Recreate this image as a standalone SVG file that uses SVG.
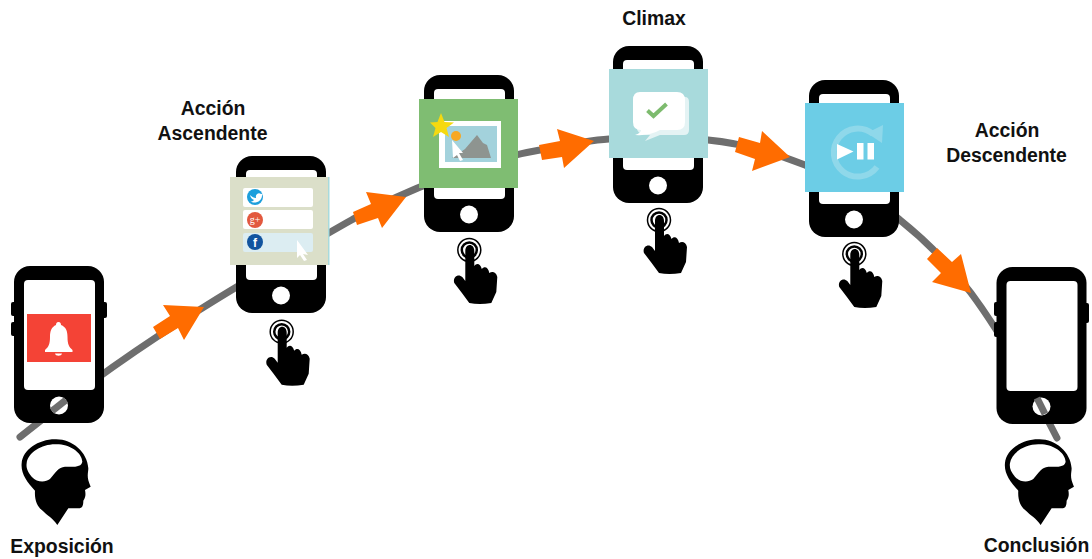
<svg xmlns="http://www.w3.org/2000/svg" xmlns:xlink="http://www.w3.org/1999/xlink" width="1092" height="559" viewBox="0 0 1092 559">
<style>
.lbl{font-family:"Liberation Sans",Arial,sans-serif;font-weight:700;font-size:19.4px;fill:#111;text-anchor:middle}
.curve{fill:none;stroke:#6e6e6e;stroke-width:7;stroke-linecap:round}
.arrow{fill:#ff6c00}
.row{fill:#fff}
.cur{fill:#fff}
</style>
<defs>
<g id="phone">
<rect x="0" y="0" width="90" height="157" rx="16" fill="#000"/>
<rect x="10" y="14" width="71" height="110" rx="4" fill="#fff"/>
<circle cx="45" cy="139.500" r="9" fill="#fff"/>
</g>
<g id="hand">
<circle r="11.500" fill="none" stroke="#000" stroke-width="1.500"/>
<circle r="7.500" fill="none" stroke="#000" stroke-width="2.500"/>
<path d="M-4,1 C-4,-7 5,-7 5,1 L5,16 C7,13 11,13 12.500,19 C15,16 19,17 20,23 C23,21 27,22 28,27 L27,42 L22,53 Q10,55 0,53 Q-8,42 -15,33 C-17,27 -11,23 -7,27 L-4,31 Z" fill="#000"/>
</g>
<g id="head">
<path d="M165,538 C215,536 262,575 265,625 C265,640 258,650 272,680 L255,690 C257,700 258,712 250,722 C250,735 248,745 235,745 L205,745 L172,795 C160,775 140,765 128,752 C112,740 103,720 105,692 C80,665 62,640 65,610 C68,570 115,538 165,538 Z" fill="#000"/>
<path d="M165,553 C205,551 245,575 247,605 C245,620 225,622 195,620 C175,622 168,635 150,657 C135,668 112,668 95,650 C82,635 78,622 80,610 C84,578 125,553 165,553 Z" fill="#fff"/>
</g>
</defs>
<rect width="1092" height="559" fill="#fff"/>
<g id="connectors">
<path class="curve" d="M20,437 C60,405 130,352 204,307 C260,272 320,238 355,218 C400,193 480,160 540,150 C565,145 590,140 609,139 C640,137 680,137 708,140 C740,143 775,153 805,165 C840,180 875,198 900,220 C925,240 950,265 971,293 C1000,332 1030,385 1057,438"/>
<polygon class="arrow" points="153,327 170,316 163,305 204,307 184,340 178,328 160,339"/>
<polygon class="arrow" points="353,212 371,204 366,192 406,197 382,228 378,218 357,225"/>
<polygon class="arrow" points="539,145 560,141 557,129 594,141 564,168 562,157 542,160"/>
<polygon class="arrow" points="739,137 760,143 762,131 790,157 752,171 755,159 735,152"/>
<polygon class="arrow" points="937,248 952,262 961,254 971,293 932,282 941,273 927,259"/>
</g>
<g id="node-exposicion">
<rect x="11" y="302" width="6" height="14" rx="2" fill="#000"/>
<rect x="11" y="322" width="6" height="14" rx="2" fill="#000"/>
<rect x="101" y="302" width="6" height="16" rx="2" fill="#000"/>
<use href="#phone" x="14" y="266"/>
<line x1="52" y1="411" x2="66" y2="400" stroke="#6e6e6e" stroke-width="7"/>
<rect x="27" y="314" width="64" height="48" fill="#f44336"/>
<path d="M58.500,322 C60.500,322 61,323.500 61,325 C66,327 67.500,331 67.500,337 C67.500,344 69,347 72.500,350 L72.500,352 L45,352 L45,350 C48.500,347 50,344 50,337 C50,331 51.500,327 56,325 C56,323.500 56.500,322 58.500,322 Z M55,353.500 L62,353.500 C61.500,356.500 55.500,356.500 55,353.500 Z" fill="#fff"/>
<use href="#head" transform="translate(0,260) scale(.3333)"/>
<text class="lbl" x="62" y="553">Exposición</text>
</g>
<g id="node-ascendente">
<use href="#phone" x="236" y="156"/>
<rect x="230" y="177" width="99" height="88" fill="#dbdfc9"/>
<rect x="328" y="177" width="1.500" height="88" fill="#a8dadc"/>
<rect class="row" x="243" y="188" width="70" height="19" rx="2"/>
<rect class="row" x="243" y="210" width="70" height="19" rx="2"/>
<rect x="243" y="233" width="70" height="19" rx="2" fill="#dcedf2"/>
<circle cx="255" cy="197" r="8" fill="#1d9fdc"/>
<path d="M250,195 C252,197 254,198 256,198 C255,194 259,192 261,194 L263,193.500 L262,195.500 C262,200 258,203 253,202.500 L250.500,201.500 C252,201.500 253,201 254,200 C252,199.500 250.500,197.500 250,195 Z" fill="#fff"/>
<circle cx="255" cy="220" r="8" fill="#e2583e"/>
<text x="255" y="223" font-family="Liberation Serif,serif" font-size="10" fill="#fff" text-anchor="middle">g+</text>
<circle cx="255" cy="242" r="8" fill="#12549f"/>
<text x="255" y="247" font-family="Liberation Sans,Arial,sans-serif" font-weight="700" font-size="12" fill="#fff" text-anchor="middle">f</text>
<polygon class="cur" points="297,240 308,255 303,254 307,260 304,261 300,255 297,258"/>
<use href="#hand" x="281.700" y="331.700"/>
<text class="lbl" x="213" y="115">Acción</text>
<text class="lbl" x="212.500" y="140">Ascendente</text>
</g>
<g id="node-imagen">
<use href="#phone" x="424" y="75"/>
<rect x="419" y="99" width="99" height="89" fill="#7fbd72"/>
<rect x="439" y="121" width="62" height="47" fill="#fff"/>
<rect x="445" y="126" width="52" height="36" fill="#a3d2dc"/>
<polygon points="452,158 465,149 477,135 483,143 487,145 491,158" fill="#8e9490"/>
<polygon points="441,113 444.500,122 454,122.500 446.500,128 449,137 441,132 433,137 435.500,128 430,122.500 437.500,122" fill="#f5d90f"/>
<circle cx="456" cy="136" r="5" fill="#f7a823"/>
<polygon class="cur" points="452,140 463,153 459,153 463,160 460,161 457,155 453,158"/>
<use href="#hand" x="469.300" y="250"/>
</g>
<g id="node-climax">
<use href="#phone" x="613" y="46"/>
<rect x="609" y="69" width="99" height="89" fill="#a8dadc"/>
<path d="M640,97 L685,97 Q689,97 689,102 L689,130 Q689,135 684,135 L660,135 L645,141 L650,135 Q637,135 637,128 Z" fill="#e4f3f4"/>
<path d="M640,92 L677,92 Q685,92 685,100 L685,122 Q685,130 677,130 L660,130 Q650,136 635,135 Q641,133 641,130 Q633,130 633,122 L633,100 Q633,92 640,92 Z" fill="#fff"/>
<polyline points="647.500,110.500 653.500,116 666.500,104" fill="none" stroke="#7dbb6e" stroke-width="4"/>
<use href="#hand" x="659" y="220"/>
<text class="lbl" x="654" y="25">Climax</text>
</g>
<g id="node-video">
<use href="#phone" x="809" y="80"/>
<rect x="805" y="103" width="99" height="89" fill="#6ccde6"/>
<path d="M877,167 A24,24 0 1 1 873,134" fill="none" stroke="#8fd8ea" stroke-width="6"/>
<polygon points="883,125 882,143 867,133" fill="#8fd8ea"/>
<polygon points="837,144 853.500,151.500 837,159.500" fill="#fff"/>
<rect x="857" y="143" width="6.500" height="16.500" fill="#fff"/>
<rect x="867.500" y="143" width="6.500" height="16.500" fill="#fff"/>
<use href="#hand" x="854.300" y="254"/>
<text class="lbl" x="1007" y="137">Acción</text>
<text class="lbl" x="1006.500" y="162">Descendente</text>
</g>
<g id="node-conclusion">
<rect x="994" y="302" width="6" height="14" rx="2" fill="#000"/>
<rect x="994" y="322" width="6" height="15" rx="2" fill="#000"/>
<rect x="1083" y="303" width="6" height="20" rx="2" fill="#000"/>
<use href="#phone" x="996.500" y="267"/>
<line x1="1037" y1="398" x2="1045" y2="414" stroke="#6e6e6e" stroke-width="7"/>
<use href="#head" transform="translate(983.300,260) scale(.3333)"/>
<text class="lbl" x="1036.500" y="552">Conclusión</text>
</g>
</svg>
